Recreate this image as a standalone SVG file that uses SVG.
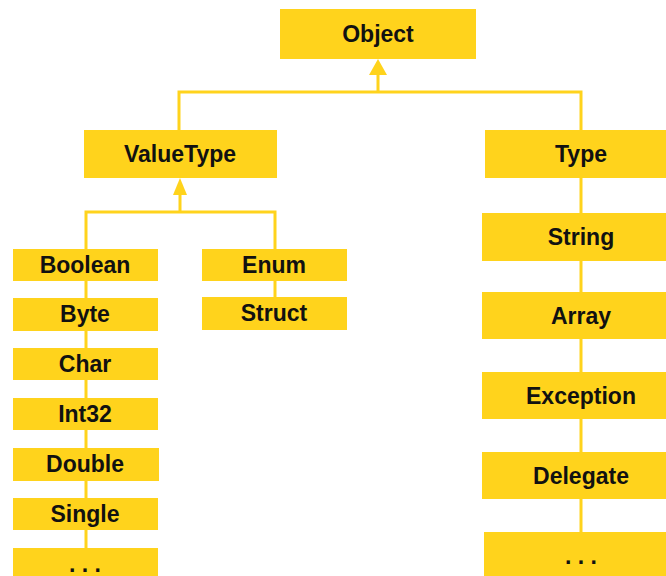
<svg xmlns="http://www.w3.org/2000/svg" width="666" height="576" viewBox="0 0 666 576">
  <style>
    .box { fill: #FFD31C; }
    .lbl { font-family: "Liberation Sans", Arial, sans-serif; font-weight: bold; font-size: 23px; fill: #111; text-anchor: middle; }
    .wire { stroke: #FFD31C; stroke-width: 3; fill: none; }
    .head { fill: #FFD31C; }
  </style>
  <rect width="666" height="576" fill="#ffffff"/>

  <g id="connectors">
    <!-- Object to ValueType / Type -->
    <path class="wire" d="M378,74 V92 M179,130 V92 H581 V532"/>
    <polygon class="head" points="378,59 369,75 387,75"/>
    <!-- ValueType to its subtypes -->
    <path class="wire" d="M180,194 V212 M86,549 V212 H275 V297"/>
    <polygon class="head" points="180,178 173,195 187,195"/>
  </g>

  <g id="object"><rect class="box" x="280" y="9" width="196" height="50"/><text class="lbl" x="378" y="42">Object</text></g>
  <g id="valuetype"><rect class="box" x="84" y="130" width="193" height="48"/><text class="lbl" x="180" y="162">ValueType</text></g>
  <g id="type"><rect class="box" x="485" y="130" width="194" height="48"/><text class="lbl" x="581" y="162">Type</text></g>

  <g id="boolean"><rect class="box" x="13" y="249" width="145" height="32"/><text class="lbl" x="85" y="273">Boolean</text></g>
  <g id="byte"><rect class="box" x="13" y="298" width="145" height="33"/><text class="lbl" x="85" y="322">Byte</text></g>
  <g id="char"><rect class="box" x="13" y="348" width="145" height="32"/><text class="lbl" x="85" y="372">Char</text></g>
  <g id="int32"><rect class="box" x="13" y="398" width="145" height="32"/><text class="lbl" x="85" y="422">Int32</text></g>
  <g id="double"><rect class="box" x="13" y="448" width="146" height="33"/><text class="lbl" x="85" y="472">Double</text></g>
  <g id="single"><rect class="box" x="13" y="498" width="145" height="32"/><text class="lbl" x="85" y="522">Single</text></g>
  <g id="more-values"><rect class="box" x="13" y="548" width="145" height="40"/><text class="lbl" x="85" y="572">. . .</text></g>

  <g id="enum"><rect class="box" x="202" y="249" width="145" height="32"/><text class="lbl" x="274" y="273">Enum</text></g>
  <g id="struct"><rect class="box" x="202" y="297" width="145" height="33"/><text class="lbl" x="274" y="321">Struct</text></g>

  <g id="string"><rect class="box" x="482" y="213" width="198" height="48"/><text class="lbl" x="581" y="245">String</text></g>
  <g id="array"><rect class="box" x="482" y="292" width="198" height="47"/><text class="lbl" x="581" y="324">Array</text></g>
  <g id="exception"><rect class="box" x="482" y="372" width="198" height="47"/><text class="lbl" x="581" y="404">Exception</text></g>
  <g id="delegate"><rect class="box" x="482" y="452" width="198" height="47"/><text class="lbl" x="581" y="484">Delegate</text></g>
  <g id="more-types"><rect class="box" x="484" y="532" width="196" height="50"/><text class="lbl" x="581" y="564">. . .</text></g>
</svg>
